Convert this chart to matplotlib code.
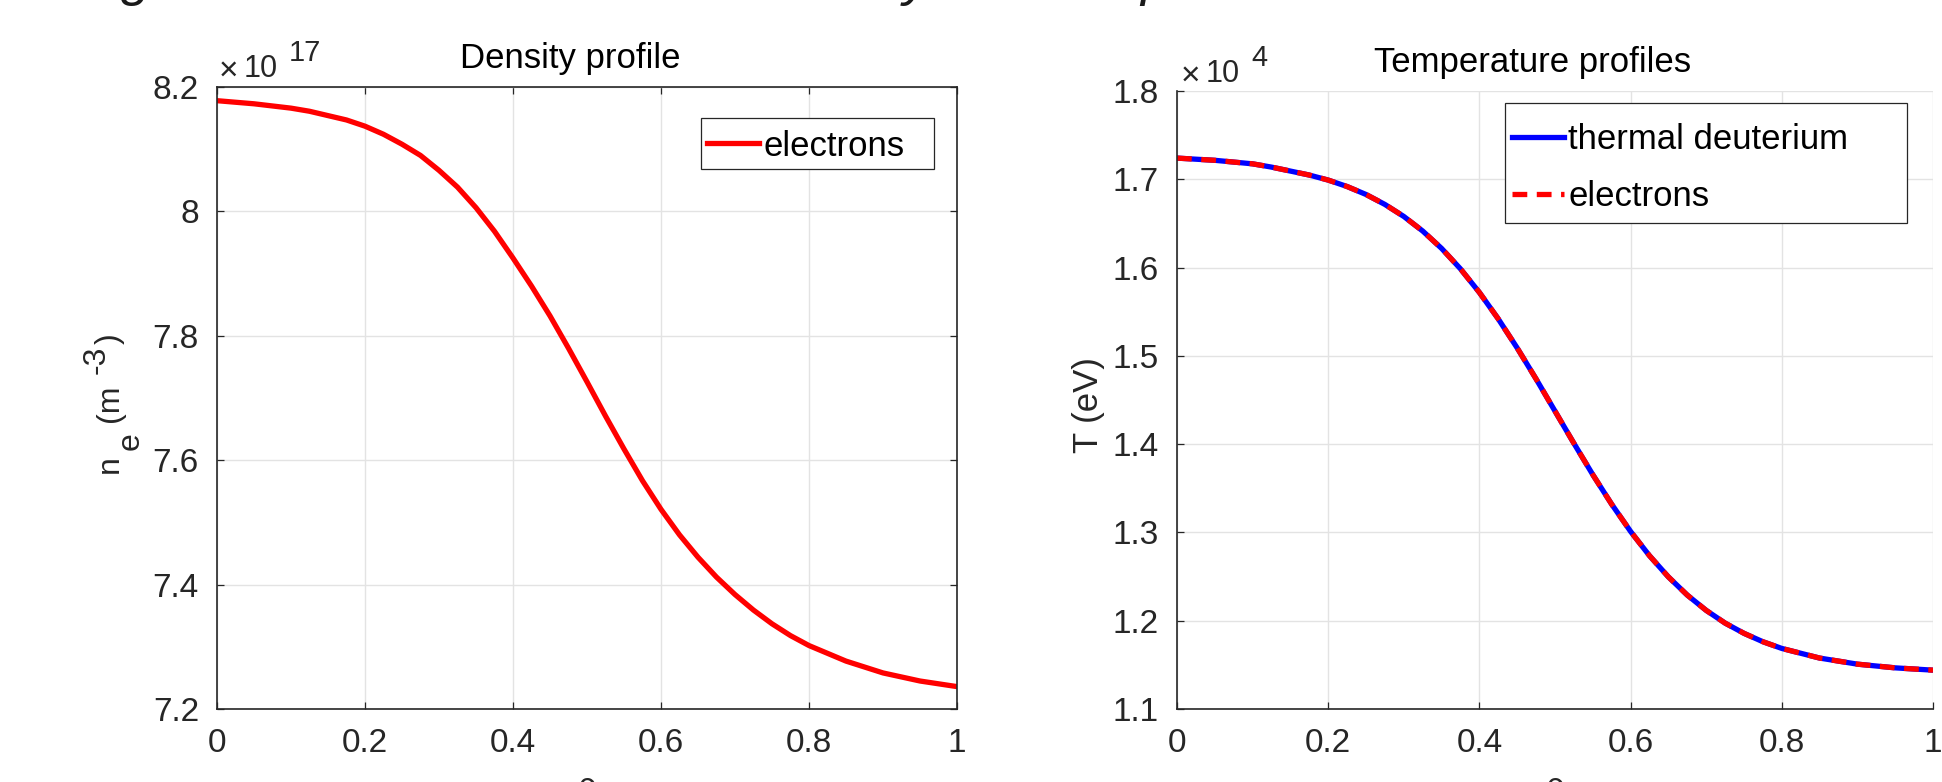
import matplotlib
matplotlib.use("Agg")
import matplotlib.pyplot as plt
from matplotlib.patches import Rectangle

plt.rcParams['font.family'] = ['Liberation Sans', 'DejaVu Sans']
plt.rcParams['mathtext.fontset'] = 'custom'
plt.rcParams['mathtext.rm'] = 'Liberation Sans'
plt.rcParams['mathtext.it'] = 'Liberation Sans:italic'

# ---- profile data -------------------------------------------------------
rho = [0.00, 0.05, 0.10, 0.125, 0.15, 0.175, 0.20, 0.225, 0.25, 0.275,
       0.30, 0.325, 0.35, 0.375, 0.40, 0.425, 0.45, 0.475, 0.50, 0.525,
       0.55, 0.575, 0.60, 0.625, 0.65, 0.675, 0.70, 0.725, 0.75, 0.775,
       0.80, 0.85, 0.90, 0.95, 1.00]

# electron density in units of 1e17 m^-3
ne_exp = 17
ne_scaled = [8.178, 8.173, 8.166, 8.161, 8.154, 8.147, 8.137, 8.124, 8.108, 8.090,
             8.066, 8.039, 8.006, 7.968, 7.925, 7.880, 7.832, 7.780, 7.726, 7.671,
             7.618, 7.567, 7.521, 7.480, 7.444, 7.412, 7.384, 7.359, 7.337, 7.318,
             7.302, 7.277, 7.258, 7.245, 7.236]

# temperatures in units of 1e4 eV
T_exp = 4
T_deuterium = [1.7240, 1.7215, 1.7175, 1.7138, 1.7093, 1.7048, 1.6991, 1.6918, 1.6828, 1.6715,
               1.6579, 1.6414, 1.6217, 1.5985, 1.5718, 1.5418, 1.5089, 1.4738, 1.4374, 1.4009,
               1.3654, 1.3319, 1.3011, 1.2736, 1.2496, 1.2290, 1.2117, 1.1973, 1.1857, 1.1762,
               1.1686, 1.1577, 1.1508, 1.1466, 1.1440]
T_electrons = list(T_deuterium)

x_ticks = [0, 0.2, 0.4, 0.6, 0.8, 1]
x_ticklabels = ['0', '0.2', '0.4', '0.6', '0.8', '1']
ne_ticks = [7.2, 7.4, 7.6, 7.8, 8.0, 8.2]
ne_ticklabels = ['7.2', '7.4', '7.6', '7.8', '8', '8.2']
T_ticks = [1.1, 1.2, 1.3, 1.4, 1.5, 1.6, 1.7, 1.8]
T_ticklabels = ['1.1', '1.2', '1.3', '1.4', '1.5', '1.6', '1.7', '1.8']

# ---- styling ------------------------------------------------------------
W, H = 1942, 782
AX_COL = '#262626'
GRID_COL = '#e3e3e3'
FS = 24
LEG_FS = 25
TITLE_FS = 25
LW = 3.8

fig = plt.figure(figsize=(W / 100, H / 100), dpi=100)
fig.patch.set_facecolor('white')


def px_axes(x0, y0, x1, y1):
    ax = fig.add_axes([x0 / W, 1 - y1 / H, (x1 - x0) / W, (y1 - y0) / H])
    ax._px_box = (x0, y0, x1, y1)
    return ax


def to_axes(ax, x_px, y_px):
    x0, y0, x1, y1 = ax._px_box
    return (x_px - x0) / (x1 - x0), (y1 - y_px) / (y1 - y0)


def style_axes(ax, box):
    ax.grid(True, color=GRID_COL, linewidth=1.0)
    ax.set_axisbelow(True)
    for side in ['left', 'bottom', 'top', 'right']:
        ax.spines[side].set_color(AX_COL)
        ax.spines[side].set_linewidth(1.2)
    if not box:
        ax.spines['top'].set_visible(False)
        ax.spines['right'].set_visible(False)
    ax.tick_params(direction='in', length=5, width=0.9, color=AX_COL,
                   labelsize=FS, labelcolor=AX_COL,
                   top=box, right=box)
    ax.tick_params(axis='x', pad=14)
    ax.tick_params(axis='y', pad=13)


def exponent_label(x_px, base_px, exp):
    fig.text(x_px / W, 1 - (base_px + 3) / H, '\u00d7', fontsize=24,
             color=AX_COL, va='baseline', ha='left')
    fig.text((x_px + 25) / W, 1 - base_px / H, '10', fontsize=22,
             color=AX_COL, va='baseline', ha='left')
    fig.text((x_px + 70) / W, 1 - (base_px - 16) / H, str(exp), fontsize=21,
             color=AX_COL, va='baseline', ha='left')


def boxed_legend(ax, anchor_px, box_px, spacing):
    leg = ax.legend(loc='center left', bbox_to_anchor=to_axes(ax, *anchor_px),
                    borderaxespad=0, borderpad=0, frameon=False,
                    fontsize=LEG_FS, handlelength=1.5, handletextpad=0.12,
                    labelspacing=spacing)
    for t in leg.get_texts():
        t.set_color('black')
    leg.set_zorder(6)
    bx0, by0 = to_axes(ax, box_px[0], box_px[3])
    bx1, by1 = to_axes(ax, box_px[2], box_px[1])
    ax.add_patch(Rectangle((bx0, by0), bx1 - bx0, by1 - by0, transform=ax.transAxes,
                           facecolor='white', edgecolor=AX_COL, linewidth=0.9,
                           zorder=5, clip_on=False))
    return leg


def rotated_pieces(pieces, size):
    # pieces: (text, baseline_x_px, start_y_px) drawn bottom-to-top
    for txt, bx, sy in pieces:
        fig.text(bx / W, 1 - sy / H, txt, fontsize=size, color=AX_COL,
                 rotation=90, rotation_mode='anchor', ha='left', va='baseline')


# ---- density panel ------------------------------------------------------
ax1 = px_axes(217, 87, 957, 709)
ax1.plot(rho, ne_scaled, color='#ff0000', linewidth=LW, label='electrons')
ax1.set_xlim(0, 1)
ax1.set_ylim(7.2, 8.2)
ax1.set_xticks(x_ticks)
ax1.set_xticklabels(x_ticklabels)
ax1.set_yticks(ne_ticks)
ax1.set_yticklabels(ne_ticklabels)
style_axes(ax1, box=True)
ax1.set_title('Density profile', fontsize=TITLE_FS, color='black', x=0.4776, pad=14)
boxed_legend(ax1, (707, 146), (701, 118, 934, 169), 0.5)
exponent_label(219, 77, ne_exp)

# y label n_e (m^-3) with full-size sub/superscripts
rotated_pieces([('n', 118, 473), ('e', 139, 450), ('(m', 118, 422),
                ('-3', 105, 374), (')', 118, 344)], 23)

# ---- temperature panel --------------------------------------------------
ax2 = px_axes(1177, 91, 1933, 709)
ax2.plot(rho, T_deuterium, color='#0000ff', linewidth=LW, label='thermal deuterium')
ax2.plot(rho, T_electrons, color='#ff0000', linewidth=LW, linestyle=(0, (2.8, 1.8)),
         label='electrons')
ax2.set_xlim(0, 1)
ax2.set_ylim(1.1, 1.8)
ax2.set_xticks(x_ticks)
ax2.set_xticklabels(x_ticklabels)
ax2.set_yticks(T_ticks)
ax2.set_yticklabels(T_ticklabels)
style_axes(ax2, box=False)
ax2.set_title('Temperature profiles', fontsize=TITLE_FS, color='black', x=0.4705, pad=14)
boxed_legend(ax2, (1512, 168), (1505, 103, 1907, 223), 0.7)
exponent_label(1181, 82, T_exp)

fig.text(1098 / W, 1 - 405 / H, 'T (eV)', fontsize=25, color=AX_COL,
         rotation=90, rotation_mode='anchor', ha='center', va='baseline')

# ---- x labels and heading (mostly beyond the canvas edges) --------------
for ax in (ax1, ax2):
    pos = ax.get_position()
    fig.text(pos.x0 + pos.width / 2, -0.018, '\u03c1', fontsize=FS,
             color=AX_COL, ha='center', va='baseline')

fig.text(76 / W, 1.0 + 5 / H, 'Figure 1: The initial electron density and temperature',
         fontsize=39, fontstyle='italic', color='#1a1a1a', ha='left', va='baseline')

fig.savefig('out.png', dpi=100, facecolor='white')
